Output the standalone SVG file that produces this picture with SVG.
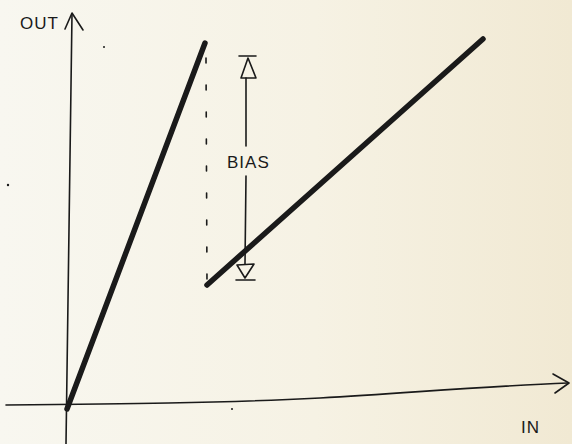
<svg xmlns="http://www.w3.org/2000/svg" width="572" height="444" viewBox="0 0 572 444">
<defs>
<linearGradient id="paper" x1="0" y1="0" x2="1" y2="0">
<stop offset="0" stop-color="#f8f7f0"/>
<stop offset="0.55" stop-color="#f6f2e4"/>
<stop offset="1" stop-color="#f1e9d3"/>
</linearGradient>
<style>
.ink{fill:none;stroke:#1a1a1a;stroke-linecap:round;stroke-linejoin:round}
.thin{stroke-width:1.6}
.thick{stroke-width:5.5}
.dash{stroke-width:1.6;stroke-dasharray:5 22}
.lbl{font-family:"Liberation Sans",Arial,sans-serif;fill:#1a1a1a;font-size:17px}
</style>
</defs>
<rect width="572" height="444" fill="url(#paper)"/>
<g id="connectors">
<!-- OUT axis -->
<path class="ink thin" d="M72,14 C70,120 68,260 66,444"/>
<path class="ink thin" d="M65,29 L72,13 L83,30"/>
<!-- IN axis -->
<path class="ink thin" d="M6,405 C120,404 220,403 320,398 C420,392 490,386 568,383"/>
<path class="ink thin" d="M553,374 L569,383 L555,393"/>
<!-- dashed guide -->
<path class="ink dash" d="M206,58 L207,285"/>
<!-- bias arrow -->
<path class="ink thin" d="M246,78 L246,146"/>
<path class="ink thin" d="M246,176 L245,264"/>
<path class="ink thin" d="M239,56 L256,56 M248,58 L241,78 L256,78 Z"/>
<path class="ink thin" d="M237,265 L254,264 L245,278 Z M236,280 L255,280"/>
</g>
<g id="line-no-bias">
<path class="ink thick" d="M67,409 L205,43"/>
</g>
<g id="line-bias">
<path class="ink thick" d="M207,285 L483,39"/>
</g>
<g id="label-out"><text class="lbl" x="20" y="29" font-size="16" letter-spacing="1">OUT</text></g>
<g id="label-in"><text class="lbl" x="521" y="433" font-size="18" letter-spacing="1">IN</text></g>
<g id="label-bias"><text class="lbl" x="227" y="168" font-size="18" letter-spacing="1">BIAS</text></g>
<g id="specks" fill="#1a1a1a">
<circle cx="104" cy="47" r="1"/>
<circle cx="8" cy="185" r="1.2"/>
<circle cx="232" cy="409" r="1"/>
</g>
</svg>
